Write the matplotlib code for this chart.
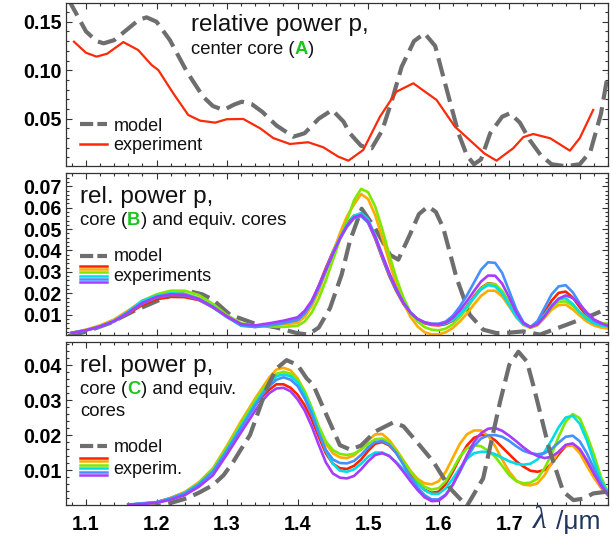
import numpy as np
import matplotlib
matplotlib.use("Agg")
import matplotlib.pyplot as plt
from matplotlib.lines import Line2D
from matplotlib.ticker import MultipleLocator

plt.rcParams['font.family'] = ['Liberation Sans', 'DejaVu Sans']
plt.rcParams['lines.scale_dashes'] = False

# ---------------- data ----------------
# panel A (center core)
lam_m1 = [1.070, 1.085, 1.100, 1.115, 1.125, 1.140, 1.160, 1.175, 1.186, 1.200,
          1.219, 1.243, 1.266, 1.280, 1.295, 1.310, 1.321, 1.335, 1.350, 1.370,
          1.394, 1.410, 1.430, 1.449, 1.465, 1.474, 1.490, 1.505, 1.520, 1.535,
          1.5475, 1.565, 1.580, 1.595, 1.609, 1.628, 1.640, 1.650, 1.660, 1.673,
          1.690, 1.701, 1.715, 1.729, 1.745, 1.760, 1.780, 1.800, 1.815, 1.830, 1.840]
val_m1 = [0.180, 0.160, 0.140, 0.130, 0.1277, 0.131, 0.143, 0.152, 0.1545, 0.150,
          0.131, 0.0985, 0.0727, 0.063, 0.059, 0.0645, 0.0675, 0.065, 0.057, 0.043,
          0.0314, 0.035, 0.050, 0.059, 0.047, 0.035, 0.022, 0.0195, 0.038, 0.072,
          0.1036, 0.130, 0.138, 0.125, 0.0865, 0.035, 0.012, 0.003, 0.008, 0.035,
          0.052, 0.0556, 0.046, 0.028, 0.012, 0.003, 0.001, 0.003, 0.016, 0.055, 0.0968]
lam_e1 = [1.083, 1.100, 1.115, 1.130, 1.153, 1.174, 1.193, 1.2025, 1.2237, 1.245,
          1.2616, 1.283, 1.2994, 1.323, 1.347, 1.3655, 1.389, 1.415, 1.4364, 1.4577,
          1.472, 1.493, 1.5167, 1.540, 1.564, 1.597, 1.623, 1.649, 1.665, 1.682,
          1.7056, 1.720, 1.734, 1.758, 1.786, 1.800, 1.819]
val_e1 = [0.1294, 0.118, 0.114, 0.117, 0.129, 0.1208, 0.1054, 0.1002, 0.0762, 0.0538,
          0.048, 0.0459, 0.0494, 0.0497, 0.040, 0.030, 0.0239, 0.0257, 0.0205, 0.0108,
          0.0067, 0.0177, 0.052, 0.0778, 0.0865, 0.0693, 0.0418, 0.0246, 0.014, 0.0067,
          0.0195, 0.031, 0.0342, 0.0298, 0.017, 0.030, 0.059]

# panel B (core B and equivalent cores)
lam_m2 = [1.075, 1.101, 1.134, 1.167, 1.205, 1.225, 1.2474, 1.265, 1.280, 1.304,
          1.337, 1.370, 1.399, 1.415, 1.430, 1.446, 1.4624, 1.474, 1.4908, 1.5096,
          1.531, 1.5427, 1.5592, 1.572, 1.585, 1.596, 1.6065, 1.6254, 1.644, 1.663,
          1.682, 1.700, 1.7198, 1.7435, 1.7813, 1.819, 1.840]
val_m2 = [0.0, 0.0022, 0.0061, 0.0116, 0.017, 0.0195, 0.0209, 0.0195, 0.017, 0.010,
          0.0061, 0.004, 0.0014, 0.0007, 0.004, 0.0131, 0.0287, 0.0443, 0.0595, 0.0505,
          0.038, 0.0357, 0.0474, 0.057, 0.0606, 0.058, 0.0505, 0.0271, 0.010, 0.003,
          0.0014, 0.0016, 0.0022, 0.0007, 0.0053, 0.010, 0.013]
lam_e2 = [1.08, 1.10, 1.12, 1.14, 1.16, 1.18, 1.20, 1.22, 1.24, 1.26,
          1.28, 1.30, 1.32, 1.34, 1.36, 1.38, 1.40,
          1.41, 1.42, 1.43, 1.44, 1.45, 1.46, 1.47, 1.48, 1.49, 1.50,
          1.51, 1.52, 1.53, 1.54, 1.55, 1.56, 1.57, 1.58, 1.59, 1.60,
          1.61, 1.62, 1.63, 1.64, 1.65, 1.66, 1.67, 1.68, 1.69, 1.70,
          1.71, 1.72, 1.73, 1.74, 1.75, 1.76, 1.77, 1.78, 1.79, 1.80,
          1.81, 1.82, 1.83, 1.84]
red2 = [0.0015, 0.0028, 0.0045, 0.0070, 0.0105, 0.0145, 0.0172, 0.0183, 0.0182, 0.0168,
        0.0135, 0.0092, 0.0055, 0.0047, 0.0052, 0.0060, 0.0075,
        0.0108, 0.0160, 0.0235, 0.0318, 0.0395, 0.0465, 0.0525, 0.0563, 0.0568, 0.0530,
        0.0455, 0.0365, 0.0280, 0.0210, 0.0150, 0.0105, 0.0078, 0.0060, 0.0052, 0.0050,
        0.0056, 0.0072, 0.0102, 0.0140, 0.0185, 0.0225, 0.0247, 0.0242, 0.0208, 0.0155,
        0.0098, 0.0058, 0.0042, 0.0062, 0.0110, 0.0165, 0.0202, 0.0208, 0.0180, 0.0135,
        0.0095, 0.0075, 0.0062, 0.0050]
orange2 = [0.0016, 0.0030, 0.0050, 0.0078, 0.0120, 0.0165, 0.0190, 0.0200, 0.0198, 0.0178,
           0.0140, 0.0092, 0.0055, 0.0048, 0.0052, 0.0055, 0.0062,
           0.0090, 0.0140, 0.0210, 0.0300, 0.0390, 0.0480, 0.0560, 0.0615, 0.0664, 0.0640,
           0.0565, 0.0460, 0.0345, 0.0240, 0.0155, 0.0090, 0.0045, 0.0018, 0.0008, 0.0008,
           0.0018, 0.0038, 0.0068, 0.0105, 0.0148, 0.0188, 0.0212, 0.0212, 0.0185, 0.0138,
           0.0088, 0.0052, 0.0038, 0.0050, 0.0085, 0.0123, 0.0145, 0.0147, 0.0125, 0.0095,
           0.0068, 0.0050, 0.0040, 0.0035]
green2 = [0.0015, 0.0028, 0.0046, 0.0072, 0.0115, 0.0165, 0.0195, 0.0212, 0.0212, 0.0192,
          0.0150, 0.0098, 0.0060, 0.0048, 0.0045, 0.0043, 0.0048,
          0.0068, 0.0110, 0.0175, 0.0260, 0.0355, 0.0450, 0.0540, 0.0635, 0.0688, 0.0672,
          0.0605, 0.0500, 0.0380, 0.0270, 0.0180, 0.0110, 0.0068, 0.0042, 0.0030, 0.0027,
          0.0035, 0.0055, 0.0088, 0.0130, 0.0178, 0.0222, 0.0245, 0.0242, 0.0210, 0.0155,
          0.0098, 0.0058, 0.0042, 0.0055, 0.0095, 0.0135, 0.0160, 0.0162, 0.0142, 0.0110,
          0.0085, 0.0068, 0.0060, 0.0058]
cyan2 = [0.0015, 0.0027, 0.0045, 0.0072, 0.0115, 0.0165, 0.0188, 0.0200, 0.0197, 0.0175,
         0.0138, 0.0090, 0.0048, 0.0043, 0.0053, 0.0065, 0.0080,
         0.0108, 0.0155, 0.0230, 0.0310, 0.0390, 0.0460, 0.0520, 0.0562, 0.0575, 0.0545,
         0.0470, 0.0375, 0.0290, 0.0220, 0.0155, 0.0110, 0.0080, 0.0063, 0.0055, 0.0054,
         0.0060, 0.0075, 0.0102, 0.0138, 0.0180, 0.0218, 0.0238, 0.0232, 0.0198, 0.0145,
         0.0090, 0.0055, 0.0042, 0.0058, 0.0100, 0.0145, 0.0172, 0.0177, 0.0150, 0.0112,
         0.0080, 0.0060, 0.0050, 0.0045]
blue2 = [0.0015, 0.0026, 0.0043, 0.0068, 0.0108, 0.0152, 0.0180, 0.0192, 0.0190, 0.0170,
         0.0133, 0.0088, 0.0050, 0.0042, 0.0050, 0.0060, 0.0075,
         0.0105, 0.0155, 0.0225, 0.0305, 0.0385, 0.0455, 0.0510, 0.0550, 0.0560, 0.0530,
         0.0460, 0.0370, 0.0285, 0.0215, 0.0155, 0.0110, 0.0080, 0.0065, 0.0058, 0.0058,
         0.0068, 0.0095, 0.0138, 0.0190, 0.0250, 0.0310, 0.0345, 0.0342, 0.0295, 0.0210,
         0.0125, 0.0065, 0.0042, 0.0070, 0.0132, 0.0195, 0.0232, 0.0238, 0.0205, 0.0152,
         0.0102, 0.0072, 0.0058, 0.0050]
purple2 = [0.0015, 0.0027, 0.0045, 0.0070, 0.0110, 0.0155, 0.0183, 0.0195, 0.0193, 0.0173,
           0.0136, 0.0092, 0.0056, 0.0050, 0.0060, 0.0072, 0.0088,
           0.0118, 0.0165, 0.0235, 0.0310, 0.0385, 0.0455, 0.0515, 0.0555, 0.0566, 0.0535,
           0.0465, 0.0380, 0.0295, 0.0220, 0.0155, 0.0110, 0.0080, 0.0064, 0.0056, 0.0055,
           0.0063, 0.0085, 0.0120, 0.0163, 0.0210, 0.0255, 0.0283, 0.0282, 0.0245, 0.0180,
           0.0110, 0.0060, 0.0042, 0.0055, 0.0092, 0.0138, 0.0175, 0.0190, 0.0178, 0.0148,
           0.0110, 0.0078, 0.0060, 0.0048]

# panel C (core C and equivalent cores)
lam_m3 = [1.180, 1.210, 1.2427, 1.260, 1.280, 1.295, 1.309, 1.320, 1.3325, 1.345,
          1.356, 1.370, 1.3844, 1.400, 1.4128, 1.4222, 1.441, 1.460, 1.475, 1.490,
          1.510, 1.5356, 1.550, 1.5687, 1.5923, 1.616, 1.640, 1.663, 1.687, 1.700,
          1.713, 1.725, 1.734, 1.7577, 1.7766, 1.791, 1.805, 1.819, 1.838]
val_m3 = [-0.001, 0.0, 0.0019, 0.0035, 0.0057, 0.0085, 0.0124, 0.016, 0.020, 0.027,
          0.0333, 0.039, 0.0414, 0.040, 0.0362, 0.0343, 0.0257, 0.0171, 0.0158, 0.017,
          0.021, 0.0236, 0.0225, 0.0181, 0.0124, 0.0048, -0.0003, 0.0076, 0.0295, 0.040,
          0.0438, 0.041, 0.0343, 0.0152, 0.0038, 0.0014, 0.0018, 0.0033, 0.0038]
lam_e3 = [1.16, 1.18, 1.20, 1.22, 1.24, 1.26, 1.28, 1.30, 1.32, 1.34,
          1.35, 1.36, 1.37, 1.38, 1.39, 1.40, 1.41, 1.42, 1.43, 1.44,
          1.45, 1.46, 1.47, 1.48, 1.49, 1.50, 1.51, 1.52, 1.53, 1.54,
          1.55, 1.56, 1.57, 1.58, 1.59, 1.60, 1.61, 1.62, 1.63, 1.64,
          1.65, 1.66, 1.67, 1.68, 1.69, 1.70, 1.71, 1.72, 1.73, 1.74,
          1.75, 1.76, 1.77, 1.78, 1.79, 1.80, 1.81, 1.82, 1.83, 1.84]
red3 = [0.0001, 0.0004, 0.0008, 0.0020, 0.0036, 0.0062, 0.0100, 0.0160, 0.0225, 0.0285,
        0.0310, 0.0330, 0.0345, 0.0345, 0.0335, 0.0315, 0.0285, 0.0245, 0.0195, 0.0148,
        0.0118, 0.0105, 0.0103, 0.0112, 0.0130, 0.0155, 0.0175, 0.0180, 0.0170, 0.0148,
        0.0118, 0.0088, 0.0062, 0.0043, 0.0035, 0.0038, 0.0060, 0.0095, 0.0135, 0.0170,
        0.0192, 0.0200, 0.0198, 0.0185, 0.0165, 0.0145, 0.0125, 0.0110, 0.0098, 0.0095,
        0.0100, 0.0118, 0.0145, 0.0168, 0.0172, 0.0155, 0.0120, 0.0082, 0.0050, 0.0028]
orange3 = [0.0001, 0.0003, 0.0007, 0.0020, 0.0037, 0.0065, 0.0105, 0.0170, 0.0240, 0.0305,
           0.0335, 0.0365, 0.0387, 0.0392, 0.0385, 0.0362, 0.0325, 0.0275, 0.0220, 0.0175,
           0.0148, 0.0136, 0.0134, 0.0142, 0.0160, 0.0185, 0.0202, 0.0203, 0.0185, 0.0158,
           0.0128, 0.0098, 0.0075, 0.0062, 0.0059, 0.0068, 0.0095, 0.0135, 0.0175, 0.0202,
           0.0213, 0.0213, 0.0198, 0.0168, 0.0130, 0.0095, 0.0070, 0.0058, 0.0056, 0.0062,
           0.0085, 0.0120, 0.0152, 0.0170, 0.0170, 0.0148, 0.0112, 0.0078, 0.0050, 0.0030]
green3 = [0.0001, 0.0003, 0.0006, 0.0018, 0.0035, 0.0062, 0.0102, 0.0165, 0.0233, 0.0298,
          0.0328, 0.0355, 0.0375, 0.0381, 0.0375, 0.0358, 0.0325, 0.0278, 0.0225, 0.0182,
          0.0157, 0.0146, 0.0143, 0.0147, 0.0158, 0.0175, 0.0188, 0.0190, 0.0178, 0.0155,
          0.0125, 0.0095, 0.0070, 0.0052, 0.0044, 0.0048, 0.0068, 0.0102, 0.0138, 0.0162,
          0.0171, 0.0168, 0.0155, 0.0138, 0.0112, 0.0085, 0.0068, 0.0062, 0.0064, 0.0075,
          0.0105, 0.0145, 0.0195, 0.0238, 0.0260, 0.0248, 0.0200, 0.0145, 0.0080, 0.0035]
cyan3 = [0.0001, 0.0005, 0.0008, 0.0019, 0.0034, 0.0060, 0.0097, 0.0158, 0.0225, 0.0290,
         0.0320, 0.0348, 0.0368, 0.0373, 0.0368, 0.0350, 0.0315, 0.0270, 0.0210, 0.0155,
         0.0118, 0.0098, 0.0095, 0.0102, 0.0118, 0.0138, 0.0150, 0.0150, 0.0140, 0.0122,
         0.0102, 0.0080, 0.0060, 0.0042, 0.0032, 0.0032, 0.0048, 0.0075, 0.0105, 0.0132,
         0.0148, 0.0152, 0.0152, 0.0145, 0.0135, 0.0125, 0.0118, 0.0115, 0.0118, 0.0130,
         0.0152, 0.0185, 0.0222, 0.0250, 0.0255, 0.0232, 0.0185, 0.0125, 0.0070, 0.0035]
blue3 = [0.0001, 0.0004, 0.0008, 0.0018, 0.0033, 0.0058, 0.0095, 0.0155, 0.0220, 0.0285,
         0.0315, 0.0340, 0.0358, 0.0365, 0.0358, 0.0340, 0.0305, 0.0260, 0.0205, 0.0158,
         0.0130, 0.0120, 0.0119, 0.0126, 0.0143, 0.0165, 0.0180, 0.0183, 0.0172, 0.0148,
         0.0115, 0.0080, 0.0050, 0.0028, 0.0016, 0.0016, 0.0030, 0.0058, 0.0095, 0.0135,
         0.0168, 0.0190, 0.0199, 0.0200, 0.0195, 0.0183, 0.0168, 0.0155, 0.0148, 0.0145,
         0.0148, 0.0160, 0.0178, 0.0195, 0.0198, 0.0182, 0.0148, 0.0105, 0.0062, 0.0030]
purple3 = [0.0001, 0.0003, 0.0006, 0.0015, 0.0028, 0.0052, 0.0085, 0.0145, 0.0208, 0.0270,
           0.0298, 0.0320, 0.0333, 0.0335, 0.0325, 0.0302, 0.0270, 0.0225, 0.0172, 0.0122,
           0.0090, 0.0078, 0.0076, 0.0083, 0.0102, 0.0125, 0.0143, 0.0148, 0.0140, 0.0120,
           0.0095, 0.0068, 0.0043, 0.0022, 0.0011, 0.0012, 0.0028, 0.0058, 0.0098, 0.0142,
           0.0180, 0.0205, 0.0218, 0.0220, 0.0212, 0.0198, 0.0182, 0.0165, 0.0150, 0.0140,
           0.0134, 0.0138, 0.0152, 0.0172, 0.0176, 0.0160, 0.0128, 0.0090, 0.0055, 0.0030]

x_ticks = [1.1, 1.2, 1.3, 1.4, 1.5, 1.6, 1.7, 1.8]
x_tick_labels = ['1.1', '1.2', '1.3', '1.4', '1.5', '1.6', '1.7', '']
y_ticks = [[0.05, 0.10, 0.15],
           [0.01, 0.02, 0.03, 0.04, 0.05, 0.06, 0.07],
           [0.01, 0.02, 0.03, 0.04]]
y_tick_labels = [['0.05', '0.10', '0.15'],
                 ['0.01', '0.02', '0.03', '0.04', '0.05', '0.06', '0.07'],
                 ['0.01', '0.02', '0.03', '0.04']]
exp_colors = ['#ff2200', '#ffab00', '#7fe800', '#00dde6', '#4490ff', '#a63cff']

# ---------------- figure ----------------
W, H = 613, 537
fig = plt.figure(figsize=(W / 100, H / 100), dpi=100)


def fx(x):
    return x / W


def fy(y):
    return 1 - y / H


boxes = [(66, 3.3, 608, 165.7), (66, 173, 608, 334.7), (66, 342.3, 608, 505)]
axes = [fig.add_axes([fx(l), fy(b), (r - l) / W, (b - t) / H]) for (l, t, r, b) in boxes]
ax1, ax2, ax3 = axes

GRAY = '#6e6e6e'
DASH = (13.5, 5.5)
MODEL_KW = dict(color=GRAY, lw=3.0, dashes=DASH, dash_capstyle='butt')

xlim = (1.0717, 1.840)
ylims = [(0.0015, 0.169), (0.00065, 0.0762), (0.0, 0.0465)]
minor_y = [0.01, 0.002, 0.002]

ax1.plot(lam_m1, val_m1, **MODEL_KW)
ax1.plot(lam_e1, val_e1, color='#fa2a0a', lw=1.6)

ax2.plot(lam_m2, val_m2, **MODEL_KW)
for vals, c in zip([red2, orange2, green2, cyan2, blue2, purple2], exp_colors):
    ax2.plot(lam_e2, vals, color=c, lw=1.9)

for vals, c in zip([red3, orange3, green3, cyan3, blue3, purple3], exp_colors):
    ax3.plot(lam_e3, vals, color=c, lw=1.9)
ax3.plot(lam_m3, val_m3, **MODEL_KW)

TICKFONT = dict(fontweight='bold', fontsize=14.2, family='Liberation Sans')
for i, ax in enumerate(axes):
    ax.set_xlim(*xlim)
    ax.set_ylim(*ylims[i])
    if i == 2:
        ax.set_xticks(x_ticks, labels=x_tick_labels, **TICKFONT)
    else:
        ax.set_xticks(x_ticks)
        ax.tick_params(labelbottom=False)
    ax.set_yticks(y_ticks[i], labels=y_tick_labels[i], **TICKFONT)
    ax.xaxis.set_minor_locator(MultipleLocator(0.02))
    ax.yaxis.set_minor_locator(MultipleLocator(minor_y[i]))
    ax.tick_params(which='both', direction='in', top=True, right=True,
                   color='#333333', width=0.8)
    ax.tick_params(which='major', length=4.5)
    ax.tick_params(which='minor', length=2.5)
    ax.tick_params(axis='y', pad=3.0)
    ax.tick_params(axis='x', pad=7.0)
    for s in ax.spines.values():
        s.set_linewidth(0.9)
        s.set_color('#333333')

renderer = fig.canvas.get_renderer()


def rich(x, y, parts):
    cur = x
    for s, kw in parts:
        t = fig.text(fx(cur), fy(y), s, ha='left', va='baseline', **kw)
        cur += t.get_window_extent(renderer=renderer).width


GREEN = '#1ec41e'
TXT = '#111111'
big = dict(fontsize=17.5, color=TXT)
mid = dict(fontsize=13.3, color=TXT)
leg = dict(fontsize=13, color=TXT)
gb = dict(fontsize=13.3, color=GREEN, fontweight='bold')

# panel A annotations
fig.text(fx(191), fy(30.7), 'relative power p,', **big)
rich(191, 54.3, [('center core (', mid), ('A', gb), (')', mid)])
fig.add_artist(Line2D([fx(80), fx(106.7)], [fy(124), fy(124)], transform=fig.transFigure,
                      color=GRAY, lw=3.0, dashes=(9.5, 3.0), dash_capstyle='butt'))
fig.add_artist(Line2D([fx(80), fx(106.7)], [fy(144), fy(144)], transform=fig.transFigure,
                      color='#fa2a0a', lw=1.8))
fig.text(fx(113.3), fy(130.7), 'model', **leg)
fig.text(fx(113.3), fy(150), 'experiment', **leg)

# panel B annotations
fig.text(fx(80), fy(203), 'rel. power p,', **big)
rich(80, 225.3, [('core (', mid), ('B', gb), (') and equiv. cores', mid)])
fig.add_artist(Line2D([fx(80), fx(106.7)], [fy(256.3), fy(256.3)], transform=fig.transFigure,
                      color=GRAY, lw=3.0, dashes=(9.5, 3.0), dash_capstyle='butt'))
for k, c in enumerate(exp_colors):
    yy = 265.7 + 3.3 * k
    fig.add_artist(Line2D([fx(80), fx(106.7)], [fy(yy), fy(yy)], transform=fig.transFigure,
                          color=c, lw=1.8))
fig.text(fx(113.3), fy(261.3), 'model', **leg)
fig.text(fx(113.3), fy(280.7), 'experiments', **leg)

# panel C annotations
fig.text(fx(80), fy(371.7), 'rel. power p,', **big)
rich(80, 394.3, [('core (', mid), ('C', gb), (') and equiv.', mid)])
fig.text(fx(80), fy(415.7), 'cores', **mid)
fig.add_artist(Line2D([fx(80), fx(106.7)], [fy(446), fy(446)], transform=fig.transFigure,
                      color=GRAY, lw=3.0, dashes=(9.5, 3.0), dash_capstyle='butt'))
for k, c in enumerate(exp_colors):
    yy = 458 + 3.45 * k
    fig.add_artist(Line2D([fx(80), fx(106.7)], [fy(yy), fy(yy)], transform=fig.transFigure,
                          color=c, lw=1.8))
fig.text(fx(113.3), fy(451.7), 'model', **leg)
fig.text(fx(113.3), fy(474.3), 'experim.', **leg)

# axis label lambda / um
NAVY = '#22365e'
fig.text(fx(533), fy(528.5), 'λ', family='Liberation Serif', style='italic',
         fontsize=23, color=NAVY, ha='left', va='baseline')
fig.text(fx(556), fy(528.5), '/μm', fontsize=19, color=NAVY, ha='left', va='baseline')

fig.savefig('out.png', dpi=100)
